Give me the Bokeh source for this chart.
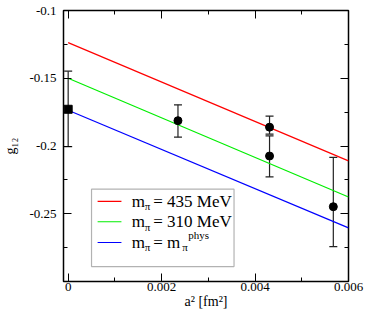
from bokeh.plotting import figure
from bokeh.models import (Range1d, LinearAxis, FixedTicker, ColumnDataSource,
                          Whisker, TeeHead, Label, BoxAnnotation, Arrow)
from bokeh.embed import file_html
from bokeh.resources import INLINE

# ---- data ----
a2 = [0.0, 0.00235, 0.00431, 0.00431, 0.005675]
g12 = [-0.1729, -0.1813, -0.1861, -0.2074, -0.2448]
g12_upper = [-0.1448, -0.1696, -0.1779, -0.1926, -0.2084]
g12_lower = [-0.2005, -0.1935, -0.1912, -0.2228, -0.2743]
point_markers = ["square", "circle", "circle", "circle", "circle"]

fit_x = [0.0, 0.006]
fit_435 = [-0.1237, -0.2110]
fit_310 = [-0.1500, -0.2376]
fit_phys = [-0.1736, -0.2604]

x_ticks = [0.0, 0.002, 0.004, 0.006]
x_tick_labels = ["0", "0.002", "0.004", "0.006"]
x_minor = [0.001, 0.003, 0.005]
y_ticks = [-0.25, -0.2, -0.15, -0.1]
y_tick_labels = ["-0.25", "-0.2", "-0.15", "-0.1"]
y_minor = [-0.275, -0.225, -0.175, -0.125]

FONT = "serif"

p = figure(width=366, height=311,
           x_range=Range1d(-0.0001, 0.006), y_range=Range1d(-0.3, -0.1),
           output_backend="svg", toolbar_location=None,
           min_border_left=54, min_border_right=18,
           min_border_top=10, min_border_bottom=30,
           x_axis_label="a\u00b2 [fm\u00b2]", y_axis_label="g\u2081\u2082")
p.grid.visible = False
p.outline_line_color = "black"
p.outline_line_width = 1.5
p.background_fill_color = "white"
p.border_fill_color = "white"


def style_axis(ax, ticks, minor, labels, show):
    ax.ticker = FixedTicker(ticks=ticks, minor_ticks=minor)
    ax.axis_line_color = None
    ax.major_tick_in = 8
    ax.major_tick_out = 0
    ax.minor_tick_in = 4
    ax.minor_tick_out = 0
    ax.major_tick_line_color = "black"
    ax.minor_tick_line_color = "black"
    ax.major_label_text_font = FONT
    ax.major_label_text_font_size = "13px"
    ax.major_label_text_color = "black"
    ax.axis_label_text_font = FONT
    ax.axis_label_text_font_size = "14px"
    ax.axis_label_text_font_style = "normal"
    ax.axis_label_text_color = "black"
    if show:
        ax.major_label_overrides = {t: l for t, l in zip(ticks, labels)}
    else:
        ax.major_label_overrides = {t: "" for t in ticks}
        ax.major_label_standoff = 0
        ax.axis_label_standoff = 0
        ax.major_label_text_font_size = "1px"


style_axis(p.xaxis[0], x_ticks, x_minor, x_tick_labels, True)
style_axis(p.yaxis[0], y_ticks, y_minor, y_tick_labels, True)
p.xaxis[0].major_label_standoff = 1
p.xaxis[0].axis_label_standoff = 0
p.yaxis[0].major_label_standoff = 7
p.yaxis[0].axis_label_standoff = 8

top_ax = LinearAxis()
right_ax = LinearAxis()
style_axis(top_ax, x_ticks, x_minor, x_tick_labels, False)
style_axis(right_ax, y_ticks, y_minor, y_tick_labels, False)
p.add_layout(top_ax, "above")
p.add_layout(right_ax, "right")

# fit lines
p.line(fit_x, fit_435, line_color="#ff0000", line_width=1.2)
p.line(fit_x, fit_310, line_color="#00ee00", line_width=1.2)
p.line(fit_x, fit_phys, line_color="#0000ff", line_width=1.2)

# data points with error bars
src = ColumnDataSource(dict(x=a2, y=g12, up=g12_upper, lo=g12_lower, m=point_markers))
p.add_layout(Whisker(source=src, base="x", upper="up", lower="lo",
                     line_color="#222222", line_width=1.2,
                     upper_head=TeeHead(size=8, line_color="#222222", line_width=1.2),
                     lower_head=TeeHead(size=8, line_color="#222222", line_width=1.2)))
p.scatter("x", "y", source=src, marker="m", size=8,
          fill_color="black", line_color="black")

# ---- legend (manual, for sub/superscripts) ----
leg_left, leg_right = 0.0005, 0.00355
leg_top, leg_bottom = -0.2319, -0.2890
p.add_layout(BoxAnnotation(left=leg_left, right=leg_right, top=leg_top, bottom=leg_bottom,
                           fill_color="white", fill_alpha=1.0,
                           line_color="black", line_width=1.2, level="overlay"))

rows_y = [-0.2408, -0.2559, -0.2712]
row_colors = ["#ff0000", "#00ee00", "#0000ff"]
sample_x0, sample_x1 = 0.00063, 0.00114
text_x = 0.00136
big = "17px"
small = "11px"

for ry, col in zip(rows_y, row_colors):
    p.add_layout(Arrow(x_start=sample_x0, y_start=ry, x_end=sample_x1, y_end=ry,
                       start=None, end=None, line_color=col, line_width=1.2,
                       level="overlay"))


def piece(txt, y, dx, dy, size):
    p.add_layout(Label(x=text_x, y=y, x_offset=dx, y_offset=dy, text=txt,
                       text_font=FONT, text_font_size=size, text_color="black",
                       text_baseline="middle", text_align="left", level="overlay"))


entries = ["= 435 MeV", "= 310 MeV"]
for i, ry in enumerate(rows_y):
    piece("m", ry, 0, 0, big)
    piece("\u03c0", ry, 13, -5, small)
    if i < 2:
        piece(entries[i], ry, 21.5, 0, big)
    else:
        piece("= m", ry, 21.5, 0, big)
        piece("\u03c0", ry, 50.5, -5, small)
        piece("phys", ry, 56.5, 7, small)

open("out.html", "w").write(file_html(p, INLINE))
